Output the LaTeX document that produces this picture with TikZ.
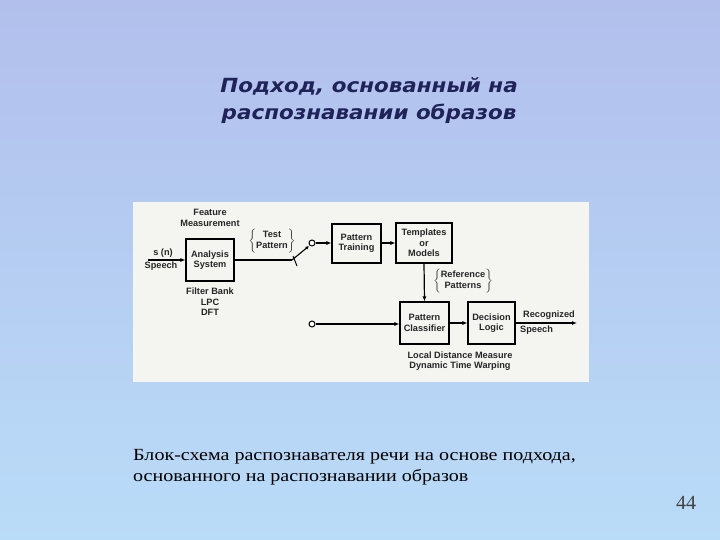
\documentclass[tikz,border=0pt]{standalone}
\usepackage{fontspec}
\setmainfont{Liberation Serif}
\newfontfamily\titlefont{DejaVu Sans}
\newfontfamily\diafont{Liberation Sans}
\usetikzlibrary{arrows.meta}
\definecolor{topc}{HTML}{B2BFEC}
\definecolor{botc}{HTML}{B9DCF8}
\definecolor{titc}{HTML}{1F2358}
\definecolor{paper}{HTML}{F4F4F1}
\begin{document}
\begin{tikzpicture}[x=1pt,y=-1pt,
  blk/.style={draw,line width=1.1pt,inner sep=0pt},
  lbl/.style={font=\diafont\bfseries\fontsize{9.2}{10.5}\selectfont,align=center,inner sep=0pt,text=black!85},
  con/.style={line width=1.2pt,-{Latex[length=5pt,width=4pt]}},
  port/.style={circle,draw,line width=1pt,fill=white,inner sep=0pt,minimum size=6pt}]
\useasboundingbox (0,0) rectangle (720,540);
\shade[top color=topc,bottom color=botc] (0,0) rectangle (720,540);
\fill[paper] (133,202) rectangle (589,382);
\node[font=\titlefont\bfseries\itshape\fontsize{19.5}{27}\selectfont,text=titc,align=center,xscale=1.1] (title) at (369,101) {Подход, основанный на\\распознавании образов};
\node[blk,minimum width=48pt,minimum height=42pt] (an) at (210,260) {};
\node[lbl] (ant) at (an) {Analysis\\System};
\node[blk,minimum width=49pt,minimum height=39pt] (pt) at (356.5,243.5) {};
\node[lbl] (ptt) at (pt) {Pattern\\Training};
\node[blk,minimum width=56pt,minimum height=40pt] (tm) at (424,243) {};
\node[lbl] (tmt) at (tm) {Templates\\or\\Models};
\node[blk,minimum width=49pt,minimum height=42pt] (pc) at (424.5,323) {};
\node[lbl] (pct) at (pc) {Pattern\\Classifier};
\node[blk,minimum width=47pt,minimum height=42pt] (dl) at (491.5,323) {};
\node[lbl] (dlt) at (dl) {Decision\\Logic};
\node[lbl] (fm) at (210,218) {Feature\\Measurement};
\node[lbl] (tp) at (272,241) {$\left\{\mbox{\begin{tabular}{@{}c@{}}Test\\Pattern\end{tabular}}\right\}$};
\node[lbl] (sn) at (163,253) {s (n)};
\node[lbl] (sp) at (161,266) {Speech};
\node[lbl] (fb) at (210,302) {Filter Bank\\LPC\\DFT};
\node[lbl] (rp) at (463,281) {$\left\{\mbox{\begin{tabular}{@{}c@{}}Reference\\Patterns\end{tabular}}\right\}$};
\node[lbl] (rs) at (549,315) {Recognized};
\node[lbl,anchor=west] (rs2) at (520,330) {Speech};
\node[lbl] (ld) at (460,361) {Local Distance Measure\\Dynamic Time Warping};
\coordinate (in) at (148,260);
\coordinate (sw) at (292,260);
\coordinate (out) at (577,323);
\node[port] (c1) at (312,243) {};
\node[port] (c2) at (312,324) {};
\draw[con] (in) -- (an);
\draw[line width=1.2pt] (an.east) -- (sw);
\draw[line width=1.1pt,-{Latex[length=3.5pt,width=3.5pt]}] (sw) -- (309,246);
\draw[line width=1pt] (293,256) -- (297,266);
\draw[con] (c1) -- (pt.west |- c1);
\draw[con] (pt.east |- 0,243) -- (tm.west |- 0,243);
\draw[con] (tm.south) -- (pc.north);
\draw[con] (c2) -- (pc.west |- c2);
\draw[con] (pc) -- (dl);
\draw[con] (dl) -- (out);
\node[anchor=west,inner sep=0pt,font=\fontsize{17}{21}\selectfont,align=left,xscale=1.18] (cap) at (133,467) {Блок-схема распознавателя речи на основе подхода,\\основанного на распознавании образов};
\node[font=\fontsize{20}{22}\selectfont,text=black!75] (num) at (686,503) {44};
\end{tikzpicture}
\end{document}
